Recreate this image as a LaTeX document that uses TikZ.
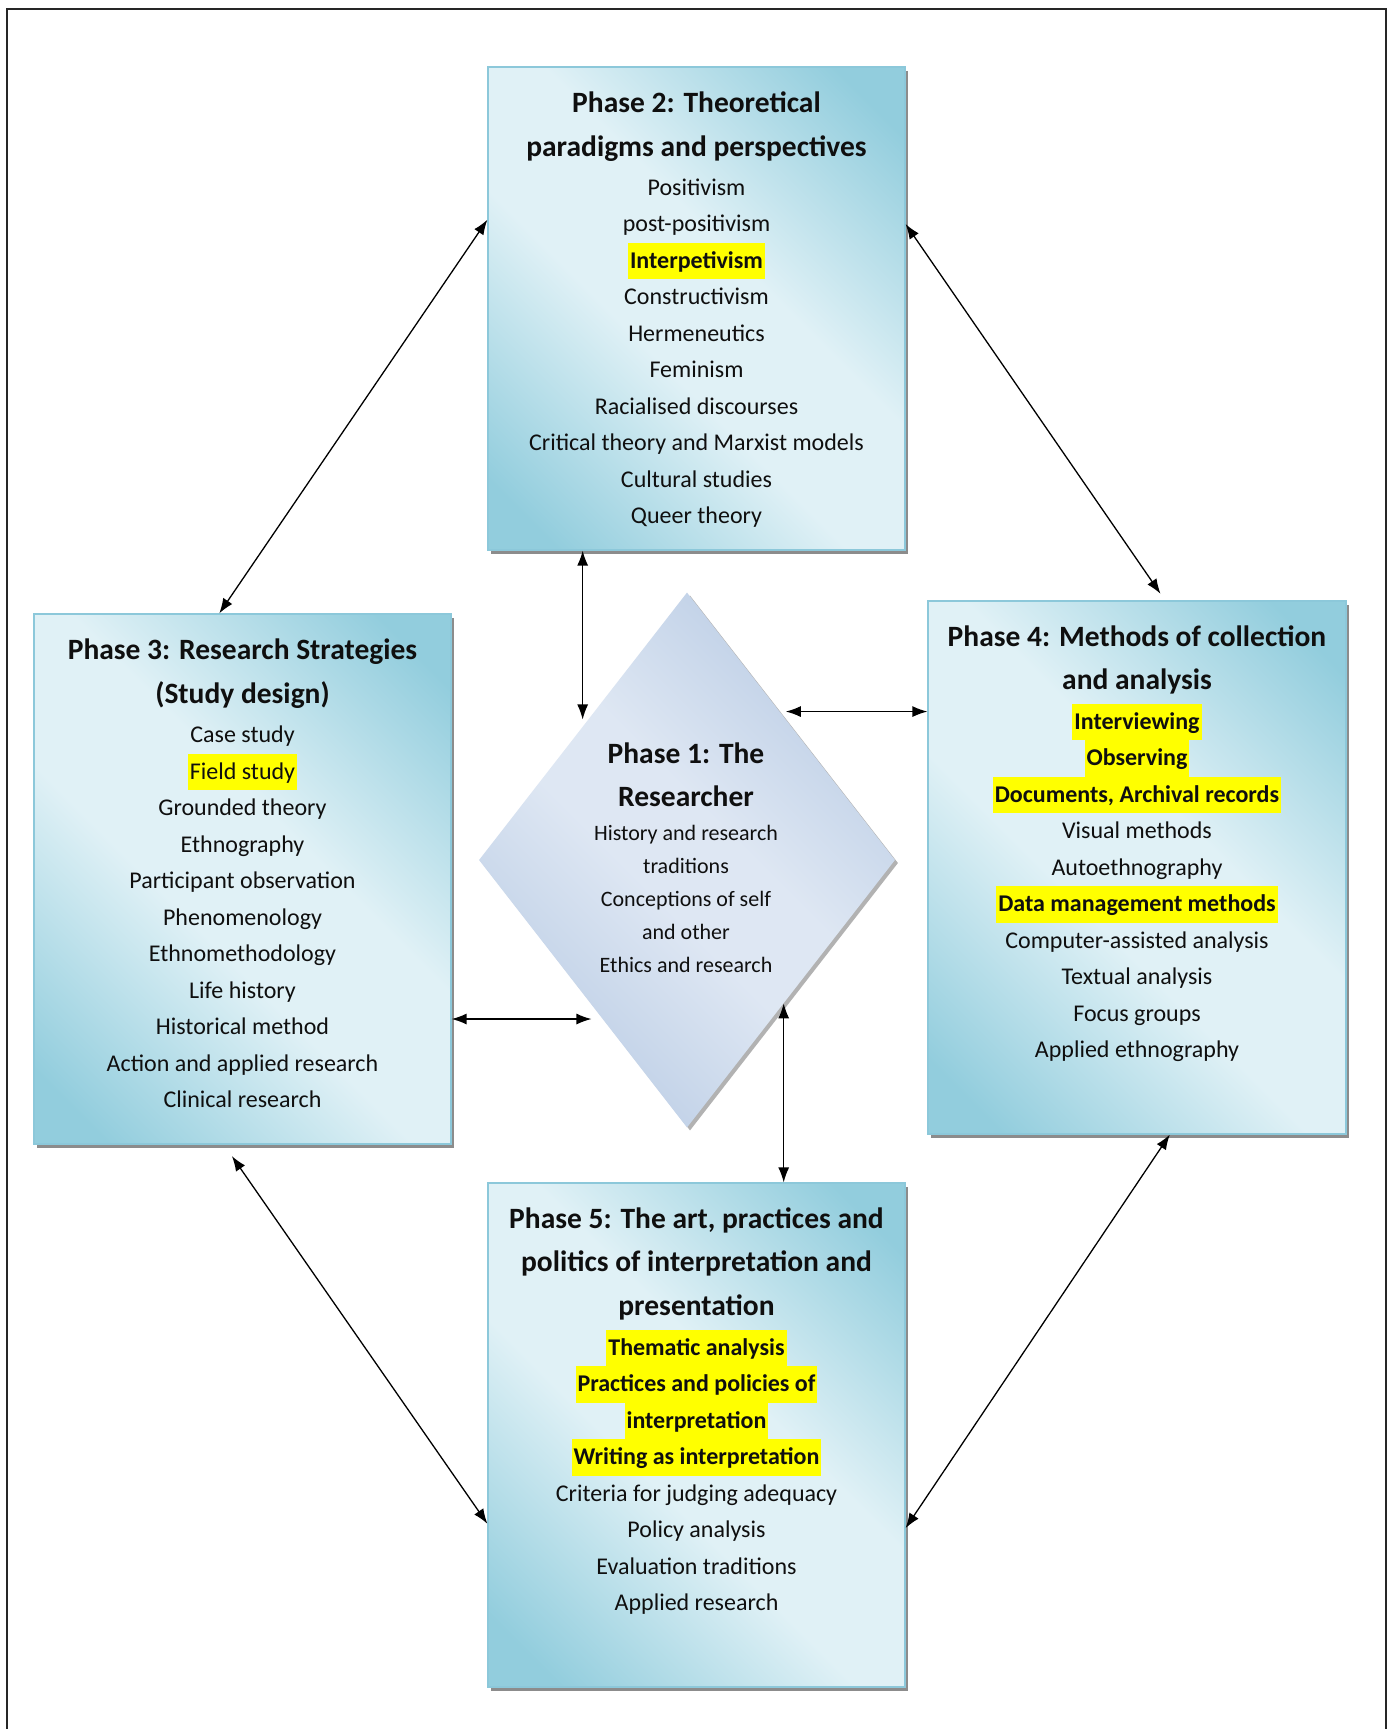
\documentclass[tikz,border=0pt]{standalone}
\usepackage{fontspec}
\setmainfont{Carlito}
\usetikzlibrary{arrows.meta,calc,shapes.geometric,shadows}

\definecolor{boxdark}{RGB}{146,205,221}
\definecolor{boxlight}{RGB}{224,241,246}
\definecolor{boxline}{RGB}{140,200,218}
\definecolor{diadark}{RGB}{182,201,227}
\definecolor{dialight}{RGB}{222,231,243}
\definecolor{hlyellow}{RGB}{255,255,0}
\definecolor{ink}{RGB}{15,15,15}

\pgfdeclarehorizontalshading{boxshade}{100bp}{color(0bp)=(boxdark); color(20bp)=(boxdark); color(43bp)=(boxlight); color(57bp)=(boxlight); color(80bp)=(boxdark); color(100bp)=(boxdark)}
\pgfdeclarehorizontalshading{diashade}{100bp}{color(0bp)=(diadark); color(22bp)=(diadark); color(45bp)=(dialight); color(55bp)=(dialight); color(78bp)=(diadark); color(100bp)=(diadark)}

% highlighted list entries (bold and plain)
\newcommand\hlbold[1]{{\setlength\fboxsep{0pt}\colorbox{hlyellow}{\hspace{2pt}\strut\textbf{#1}\hspace{2pt}}}}
\newcommand\hlplain[1]{{\setlength\fboxsep{0pt}\colorbox{hlyellow}{\hspace{2pt}\strut#1\hspace{2pt}}}}

\tikzset{
  phasebox/.style={rectangle, inner sep=0pt, draw=boxline, line width=1.2pt,
    shading=boxshade, shading angle=45, minimum width=417pt,
    drop shadow={shadow xshift=3pt, shadow yshift=-4pt, fill=black!45, opacity=1}},
  centrediamond/.style={diamond, inner sep=0pt, draw=none,
    shading=diashade, shading angle=45,
    minimum width=416pt, minimum height=535pt,
    drop shadow={shadow xshift=3pt, shadow yshift=-3pt, fill=black!30, opacity=1}},
  titletext/.style={font=\fontsize{29.5}{43.5}\selectfont\bfseries, align=center,
    anchor=north, inner sep=0pt, text=ink},
  bodytext/.style={font=\fontsize{24}{36.5}\selectfont, align=center,
    anchor=north, inner sep=0pt, text=ink},
  diabody/.style={font=\fontsize{22}{33}\selectfont, align=center,
    anchor=north, inner sep=0pt, text=ink},
  conn/.style={{Latex[length=15pt,width=11pt]}-{Latex[length=15pt,width=11pt]},
    line width=1.3pt, black},
}

\begin{document}
\begin{tikzpicture}[x=1pt,y=-1pt]
\useasboundingbox (0,0) rectangle (1387,1729);
\fill[white] (0,0) rectangle (1387,1729);

% page frame, open at the bottom
\draw[line width=2.5pt, black!85] (7,1760) -- (7,9) -- (1386,9) -- (1386,1760);

% phase boxes
\node[phasebox, minimum height=483pt] (p2) at (696.5,308.5) {};
\node[phasebox, minimum height=530pt] (p3) at (242.5,879) {};
\node[phasebox, minimum height=533pt, minimum width=418pt] (p4) at (1137,867.5) {};
\node[phasebox, minimum height=504pt] (p5) at (696.5,1435) {};
\node[centrediamond] (p1) at (687,860) {};

% Phase 2
\node[titletext] (p2title) at (696.5,82) {\strut Phase 2: Theoretical\\paradigms and perspectives};
\node[bodytext] (p2body) at (696.5,169.5) {\strut Positivism\\post-positivism\\\hlbold{Interpetivism}\\Constructivism\\Hermeneutics\\Feminism\\Racialised discourses\\Critical theory and Marxist models\\Cultural studies\\Queer theory};

% Phase 3
\node[titletext] (p3title) at (242.5,629) {\strut Phase 3: Research Strategies\\(Study design)};
\node[bodytext] (p3body) at (242.5,717) {\strut Case study\\\hlplain{Field study}\\Grounded theory\\Ethnography\\Participant observation\\Phenomenology\\Ethnomethodology\\Life history\\Historical method\\Action and applied research\\Clinical research};

% Phase 4
\node[titletext] (p4title) at (1137,615.5) {\strut Phase 4: Methods of collection\\and analysis};
\node[bodytext] (p4body) at (1137,703.5) {\hlbold{Interviewing}\\\hlbold{Observing}\\\hlbold{Documents, Archival records}\\Visual methods\\Autoethnography\\\hlbold{Data management methods}\\Computer-assisted analysis\\Textual analysis\\Focus groups\\Applied ethnography};

% Phase 5
\node[titletext] (p5title) at (696.5,1197.5) {\strut Phase 5: The art, practices and\\politics of interpretation and\\presentation};
\node[bodytext] (p5body) at (696.5,1329.5) {\hlbold{Thematic analysis}\\\hlbold{Practices and policies of}\\\hlbold{interpretation}\\\hlbold{Writing as interpretation}\\Criteria for judging adequacy\\Policy analysis\\Evaluation traditions\\Applied research};

% Phase 1
\node[titletext] (p1title) at (686,732.5) {\strut Phase 1: The\\Researcher};
\node[diabody] (p1body) at (686,817.5) {\strut History and research\\traditions\\Conceptions of self\\and other\\Ethics and research};

% connectors between the outer boxes
\draw[conn] (p2.157.5) -- (p3.95.5);
\draw[conn, shorten >=8pt] (p2.22.5) -- (p4.84.4);
\draw[conn, shorten <=14pt] (p3.266.7) -- (p5.203.6);
\draw[conn] (p4.277.9) -- (p5.336.4);

% connectors to the researcher
\draw[conn, shorten >=7pt] (p2.south -| p1.128.4) -- (p1.128.4);
\draw[conn, shorten <=6pt] (p1.58.3) -- (p4.west |- p1.58.3);
\draw[conn, shorten >=11pt] (p3.east |- p1.242.7) -- (p1.242.7);
\draw[conn] (p1.304.2) -- (p5.north -| p1.304.2);
\end{tikzpicture}
\end{document}
